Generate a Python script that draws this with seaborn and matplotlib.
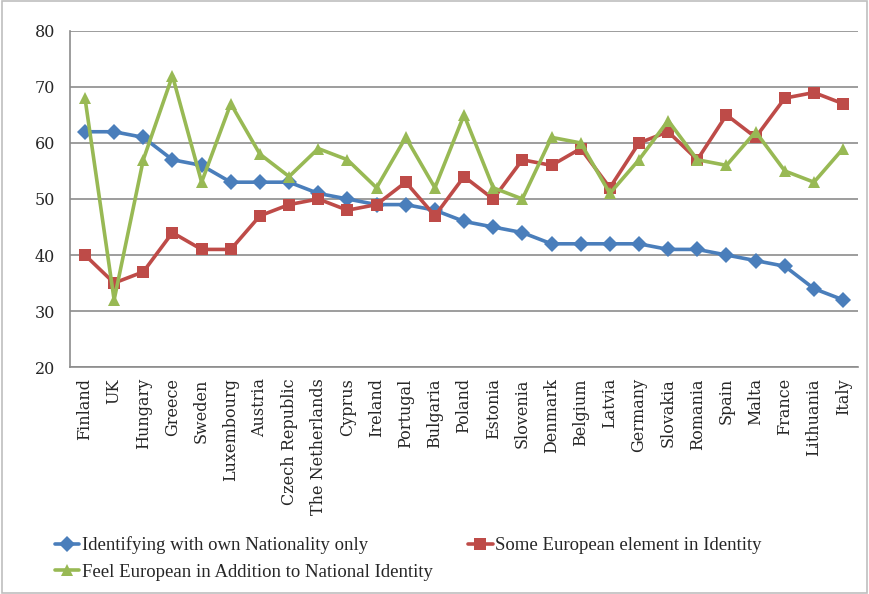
import matplotlib
matplotlib.use("Agg")
import matplotlib.pyplot as plt
import seaborn as sns
import pandas as pd
from matplotlib.ticker import FixedLocator
from matplotlib.patches import Rectangle

# data
countries = ["Finland", "UK", "Hungary", "Greece", "Sweden", "Luxembourg", "Austria",
             "Czech Republic", "The Netherlands", "Cyprus", "Ireland", "Portugal",
             "Bulgaria", "Poland", "Estonia", "Slovenia", "Denmark", "Belgium", "Latvia",
             "Germany", "Slovakia", "Romania", "Spain", "Malta", "France", "Lithuania", "Italy"]
national_only = [62, 62, 61, 57, 56, 53, 53, 53, 51, 50, 49, 49, 48, 46, 45, 44, 42, 42,
                 42, 42, 41, 41, 40, 39, 38, 34, 32]
some_european = [40, 35, 37, 44, 41, 41, 47, 49, 50, 48, 49, 53, 47, 54, 50, 57, 56, 59,
                 52, 60, 62, 57, 65, 61, 68, 69, 67]
feel_european = [68, 32, 57, 72, 53, 67, 58, 54, 59, 57, 52, 61, 52, 65, 52, 50, 61, 60,
                 51, 57, 64, 57, 56, 62, 55, 53, 59]
series_names = ["Identifying with own Nationality only",
                "Some European element in Identity",
                "Feel European in Addition to National Identity"]

df = pd.concat([
    pd.DataFrame({"country": countries, "value": vals, "series": name})
    for name, vals in zip(series_names, [national_only, some_european, feel_european])
])

sns.set_style("white")
plt.rcParams["font.family"] = ["DejaVu Serif"]

colors = {series_names[0]: "#4A7EBB", series_names[1]: "#BE4B48", series_names[2]: "#98B954"}
markers = {series_names[0]: "D", series_names[1]: "s", series_names[2]: "^"}
msizes = {series_names[0]: 10, series_names[1]: 12, series_names[2]: 13}

fig = plt.figure(figsize=(8.69, 5.94), dpi=100)
ax = fig.add_axes([0.081, 0.382, 0.906, 0.566])

for name in series_names:
    sub = df[df["series"] == name]
    sns.lineplot(data=sub, x="country", y="value", ax=ax, sort=False, color=colors[name],
                 marker=markers[name], markersize=msizes[name], markeredgewidth=0,
                 linewidth=2.6, label=name)

ax.set_ylim(20, 80)
ax.set_xlim(-0.5, len(countries) - 0.5)
ax.set_yticks(range(20, 81, 10))
ax.yaxis.grid(True, color="#8C8C8C", linewidth=1.2)
ax.set_axisbelow(True)
ax.set_xlabel("")
ax.set_ylabel("")

for s in ["top", "right"]:
    ax.spines[s].set_visible(False)
ax.spines["left"].set_color("#8C8C8C")
ax.spines["bottom"].set_color("#8C8C8C")
ax.spines["left"].set_linewidth(1.2)
ax.spines["bottom"].set_linewidth(1.2)

ax.tick_params(axis="y", length=5, color="#8C8C8C", labelsize=11.5, pad=6)
ax.tick_params(axis="x", which="major", length=0, labelsize=11.5, rotation=90, pad=8)
ax.xaxis.set_minor_locator(FixedLocator([i - 0.5 for i in range(len(countries) + 1)]))
ax.tick_params(axis="x", which="minor", length=5, color="#8C8C8C", width=1)

# legend: row 1 blue + red, row 2 green (column-major fill)
handles, labels = ax.get_legend_handles_labels()
ax.get_legend().remove()
for h in handles:
    h.set_markersize(8)
order = [0, 2, 1]
fig.legend([handles[i] for i in order], [labels[i] for i in order],
           loc="upper left", bbox_to_anchor=(0.052, 0.113), ncol=2,
           frameon=False, handlelength=1.3, handletextpad=0.15, borderpad=0,
           columnspacing=1.9, labelspacing=0.5,
           prop={"family": "Liberation Serif", "size": 13.5})

fig.patches.append(Rectangle((0.002, 0.002), 0.996, 0.996, transform=fig.transFigure,
                             fill=False, edgecolor="#BFBFBF", linewidth=1.2))

fig.savefig("out.png", dpi=100)
